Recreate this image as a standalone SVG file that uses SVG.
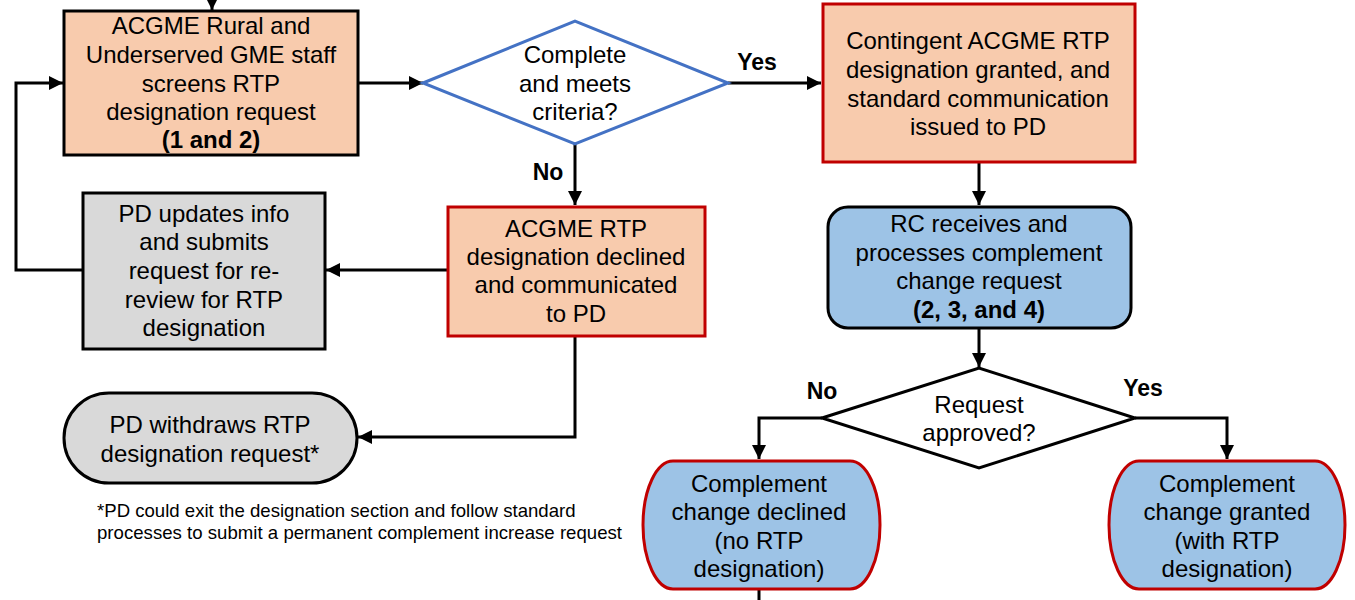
<svg xmlns="http://www.w3.org/2000/svg" width="1355" height="600" viewBox="0 0 1355 600">
<style>
.t{font-family:"Liberation Sans",Arial,sans-serif;font-size:24px;fill:#000;text-anchor:middle}
.b{font-weight:bold}
.lbl{font-family:"Liberation Sans",Arial,sans-serif;font-size:23px;font-weight:bold;fill:#000;text-anchor:middle}
.fn{font-family:"Liberation Sans",Arial,sans-serif;font-size:18.6px;fill:#000}
.peach{fill:#F8CBAD}
.blk{stroke:#000;stroke-width:3}
.red{stroke:#C00000;stroke-width:3}
.gray{fill:#D9D9D9}
.blue{fill:#9DC3E6}
.conn{fill:none;stroke:#000;stroke-width:3}
</style>
<defs>
<marker id="ah" markerUnits="userSpaceOnUse" markerWidth="15" markerHeight="15" refX="14" refY="7" orient="auto">
<path d="M0,0 L14,7 L0,14 z" fill="#000"/>
</marker>
</defs>
<rect width="1355" height="600" fill="#fff"/>

<g id="connectors">
<path class="conn" d="M212,-6 L212,10" marker-end="url(#ah)"/>
<path class="conn" d="M358,83 L423,83" marker-end="url(#ah)"/>
<path class="conn" d="M728,83 L821,83" marker-end="url(#ah)"/>
<path class="conn" d="M575,144 L575,205" marker-end="url(#ah)"/>
<path class="conn" d="M447,270 L326,270" marker-end="url(#ah)"/>
<path class="conn" d="M83,270 L16,270 L16,83 L63,83" marker-end="url(#ah)"/>
<path class="conn" d="M575,336 L575,437 L358,437" marker-end="url(#ah)"/>
<path class="conn" d="M979,163 L979,205" marker-end="url(#ah)"/>
<path class="conn" d="M979,328 L979,367" marker-end="url(#ah)"/>
<path class="conn" d="M822,418 L759,418 L759,459" marker-end="url(#ah)"/>
<path class="conn" d="M1135,418 L1227,418 L1227,459" marker-end="url(#ah)"/>
<path class="conn" d="M759,589 L759,605"/>
<text class="lbl" x="757" y="70">Yes</text>
<text class="lbl" x="548" y="180">No</text>
<text class="lbl" x="822" y="399">No</text>
<text class="lbl" x="1143" y="396">Yes</text>
</g>

<g id="screen">
<rect class="peach blk" x="64" y="11" width="294" height="144"/>
<text class="t" x="211" y="34">ACGME Rural and</text>
<text class="t" x="211" y="63">Underserved GME staff</text>
<text class="t" x="211" y="92">screens RTP</text>
<text class="t" x="211" y="120">designation request</text>
<text class="t b" x="211" y="148">(1 and 2)</text>
</g>

<g id="criteria">
<polygon points="423,83 575,21 728,83 575,144" fill="#fff" stroke="#4472C4" stroke-width="3"/>
<text class="t" x="575" y="63">Complete</text>
<text class="t" x="575" y="92">and meets</text>
<text class="t" x="575" y="120">criteria?</text>
</g>

<g id="contingent">
<rect class="peach red" x="823" y="4" width="312" height="158"/>
<text class="t" x="978" y="49">Contingent ACGME RTP</text>
<text class="t" x="978" y="78">designation granted, and</text>
<text class="t" x="978" y="107">standard communication</text>
<text class="t" x="978" y="135">issued to PD</text>
</g>

<g id="declined">
<rect class="peach red" x="448" y="207" width="257" height="129"/>
<text class="t" x="576" y="237">ACGME RTP</text>
<text class="t" x="576" y="265">designation declined</text>
<text class="t" x="576" y="293">and communicated</text>
<text class="t" x="576" y="322">to PD</text>
</g>

<g id="updates">
<rect class="gray blk" x="83" y="193" width="242" height="156"/>
<text class="t" x="204" y="222">PD updates info</text>
<text class="t" x="204" y="250">and submits</text>
<text class="t" x="204" y="279">request for re-</text>
<text class="t" x="204" y="308">review for RTP</text>
<text class="t" x="204" y="336">designation</text>
</g>

<g id="withdraw">
<rect class="gray blk" x="64" y="393" width="293" height="90" rx="45" ry="45"/>
<text class="t" x="210" y="433">PD withdraws RTP</text>
<text class="t" x="210" y="462">designation request*</text>
</g>

<g id="footnote">
<text class="fn" x="97" y="517">*PD could exit the designation section and follow standard</text>
<text class="fn" x="97" y="539" textLength="525">processes to submit a permanent complement increase request</text>
</g>

<g id="rc">
<rect class="blue blk" x="828" y="207" width="303" height="121" rx="20" ry="20"/>
<text class="t" x="979" y="232">RC receives and</text>
<text class="t" x="979" y="261">processes complement</text>
<text class="t" x="979" y="289">change request</text>
<text class="t b" x="979" y="318">(2, 3, and 4)</text>
</g>

<g id="approved">
<polygon points="822,418 979,368 1135,418 979,468" fill="#fff" stroke="#000" stroke-width="3"/>
<text class="t" x="979" y="413">Request</text>
<text class="t" x="979" y="441">approved?</text>
</g>

<g id="compdeclined">
<rect class="blue red" x="643" y="461" width="237" height="128" rx="30" ry="64"/>
<text class="t" x="759" y="492">Complement</text>
<text class="t" x="759" y="520">change declined</text>
<text class="t" x="759" y="549">(no RTP</text>
<text class="t" x="759" y="577">designation)</text>
</g>

<g id="compgranted">
<rect class="blue red" x="1109" y="461" width="236" height="128" rx="30" ry="64"/>
<text class="t" x="1227" y="492">Complement</text>
<text class="t" x="1227" y="520">change granted</text>
<text class="t" x="1227" y="549">(with RTP</text>
<text class="t" x="1227" y="577">designation)</text>
</g>
</svg>
